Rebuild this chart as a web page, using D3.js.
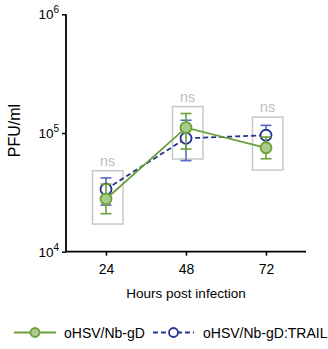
<!DOCTYPE html>
<html><head><meta charset="utf-8">
<script src="https://cdn.jsdelivr.net/npm/d3@7"></script>
<style>body{margin:0;background:#fff}svg{display:block;font-family:"Liberation Sans",Arial,sans-serif}</style>
</head><body><svg id="c" width="328" height="349"></svg>
<script>
const hours = [24, 48, 72];
const seriesNames = ["oHSV/Nb-gD", "oHSV/Nb-gD:TRAIL"];
const gdMean = [27800, 111000, 75100];
const gdLow = [20900, 73300, 60700];
const gdHigh = [37000, 146000, 92500];
const trailMean = [33600, 90200, 95700];
const trailLow = [24700, 58500, 78000];
const trailHigh = [41800, 128000, 116000];
const boxLow = [17100, 60400, 48700];
const boxHigh = [48100, 167000, 136000];
const sigLabels = ["ns", "ns", "ns"];
const yTickExp = [4, 5, 6];

const svg = d3.select("#c");
const x = d3.scaleLinear().domain([12, 84]).range([66, 306]);
const y = d3.scaleLog().domain([1e4, 1e6]).range([251.7, 14.3]);

// axes
const xAxis = svg.append("g").attr("transform", "translate(0,251.7)")
  .call(d3.axisBottom(x).tickValues(hours).tickSize(4).tickPadding(8));
const yAxis = svg.append("g").attr("transform", "translate(66,0)")
  .call(d3.axisLeft(y).tickValues(yTickExp.map(e => Math.pow(10, e))).tickSize(4).tickFormat(""));
[xAxis, yAxis].forEach(g => {
  g.select(".domain").attr("stroke", "#000").attr("stroke-width", 1.8);
  g.selectAll(".tick line").attr("stroke", "#000").attr("stroke-width", 1.5);
});
xAxis.selectAll(".domain").attr("d", `M66,0H306`);
yAxis.selectAll(".domain").attr("d", `M0,${y(1e6)}V${y(1e4)}`);
xAxis.selectAll(".tick text").attr("font-size", 14).attr("fill", "#000")
  .attr("font-family", "Liberation Sans, Arial, sans-serif");

// y tick labels with superscripts
yTickExp.forEach(e => {
  const t = svg.append("text").attr("x", 59).attr("y", y(Math.pow(10, e)) + 5)
    .attr("text-anchor", "end").attr("font-size", 13.5).attr("fill", "#000");
  t.append("tspan").text("10");
  t.append("tspan").attr("dy", -6).attr("font-size", 10).text(e);
});

svg.append("text").attr("transform", "translate(20,130.5) rotate(-90)")
  .attr("text-anchor", "middle").attr("font-size", 16).text("PFU/ml");
svg.append("text").attr("x", 186).attr("y", 298)
  .attr("text-anchor", "middle").attr("font-size", 13.5).text("Hours post infection");

// significance boxes
hours.forEach((h, i) => {
  svg.append("rect").attr("x", x(h) - 13.5).attr("width", 30.5)
    .attr("y", y(boxHigh[i])).attr("height", y(boxLow[i]) - y(boxHigh[i]))
    .attr("fill", "none").attr("stroke", "#c4c4c4").attr("stroke-width", 1.4);
  svg.append("text").attr("x", x(h) + 1.5).attr("y", y(boxHigh[i]) - 5)
    .attr("text-anchor", "middle").attr("font-size", 14).attr("fill", "#bdbdbd")
    .text(sigLabels[i]);
});

const green = "#6b9f3a", greenFill = "#a9cc8b";
const blue = "#24348f", blueBar = "#5868bf";

function drawSeries(mean, lo, hi, lineColor, barColor, fill, dash) {
  const g = svg.append("g");
  const pts = hours.map((h, i) => [x(h), y(mean[i])]);
  g.append("path").attr("d", d3.line()(pts)).attr("fill", "none")
    .attr("stroke", lineColor).attr("stroke-width", 1.8)
    .attr("stroke-dasharray", dash);
  hours.forEach((h, i) => {
    const cx = x(h);
    g.append("line").attr("x1", cx).attr("x2", cx).attr("y1", y(lo[i])).attr("y2", y(hi[i]))
      .attr("stroke", barColor).attr("stroke-width", 1.6);
    [lo[i], hi[i]].forEach(v => g.append("line").attr("x1", cx - 5.5).attr("x2", cx + 5.5)
      .attr("y1", y(v)).attr("y2", y(v)).attr("stroke", barColor).attr("stroke-width", 1.6));
    g.append("circle").attr("cx", cx).attr("cy", y(mean[i])).attr("r", 5.5)
      .attr("fill", fill).attr("stroke", lineColor).attr("stroke-width", 1.8);
  });
}
drawSeries(trailMean, trailLow, trailHigh, blue, blueBar, "#fff", "5,3");
drawSeries(gdMean, gdLow, gdHigh, green, green, greenFill, null);

// legend
const ly = 332.5;
const leg = [
  {x0: 14, x1: 56, tx: 64, color: green, fill: greenFill, dash: null, name: seriesNames[0]},
  {x0: 153, x1: 194, tx: 203, color: blue, fill: "#fff", dash: "5,3", name: seriesNames[1]}
];
leg.forEach(l => {
  svg.append("line").attr("x1", l.x0).attr("x2", l.x1).attr("y1", ly).attr("y2", ly)
    .attr("stroke", l.color).attr("stroke-width", 1.8).attr("stroke-dasharray", l.dash);
  svg.append("circle").attr("cx", (l.x0 + l.x1) / 2).attr("cy", ly).attr("r", 4.5)
    .attr("fill", l.fill).attr("stroke", l.color).attr("stroke-width", 1.8);
  svg.append("text").attr("x", l.tx).attr("y", ly + 5).attr("font-size", 14).text(l.name);
});
</script></body></html>
